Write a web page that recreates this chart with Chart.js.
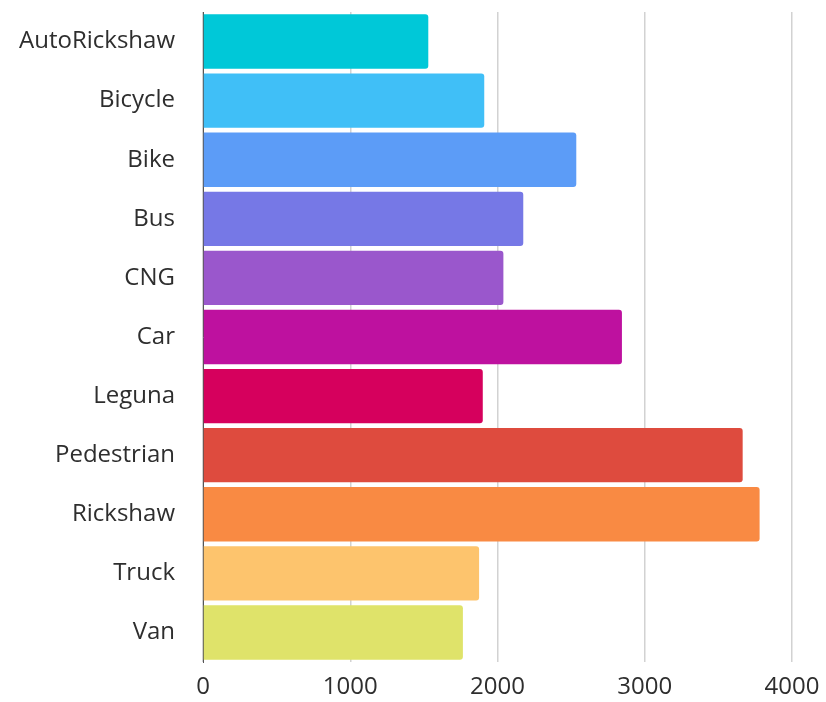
<!DOCTYPE html>
<html lang="en">
<head>
  <meta charset="UTF-8">
  <title>Vehicle counts</title>
  <script src="https://cdn.jsdelivr.net/npm/chart.js"></script>
  <style>
    body { margin: 0; background: #fff; }
    #chart { display: block; }
  </style>
</head>
<body>
  <canvas id="chart" width="826" height="702"></canvas>
  <script>
    // data
    const categories = ['AutoRickshaw', 'Bicycle', 'Bike', 'Bus', 'CNG', 'Car', 'Leguna', 'Pedestrian', 'Rickshaw', 'Truck', 'Van'];
    const counts = [1530, 1910, 2535, 2175, 2040, 2845, 1900, 3665, 3780, 1875, 1765];
    const xTicks = [0, 1000, 2000, 3000, 4000];
    const barColors = ['#00c8d8', '#40bff7', '#5c9cf7', '#7678e6', '#9a57cc', '#be119f', '#d6005d', '#de4b3e', '#f98a43', '#fdc46d', '#dfe36a'];

    const labelFont = { family: 'Open Sans', size: 24 };

    const ctx = document.getElementById('chart').getContext('2d');
    new Chart(ctx, {
      type: 'bar',
      data: {
        labels: categories,
        datasets: [{
          data: counts,
          backgroundColor: barColors,
          borderRadius: 3,
          borderSkipped: 'start',
          barPercentage: 0.92,
          categoryPercentage: 1
        }]
      },
      options: {
        indexAxis: 'y',
        responsive: false,
        animation: false,
        layout: { padding: { top: 12, right: 0, left: 0, bottom: 0 } },
        scales: {
          x: {
            min: 0,
            max: 4000,
            afterBuildTicks: axis => { axis.ticks = xTicks.map(v => ({ value: v })); },
            afterFit: axis => {
              axis.height = 40;
              axis.paddingLeft = 0;
              axis.paddingRight = 34;
            },
            grid: { color: '#d2d2d2', lineWidth: 1.5, drawTicks: false },
            border: { display: false },
            ticks: {
              color: '#2e2e2e', padding: 11, font: labelFont,
              callback: v => String(v)
            }
          },
          y: {
            afterFit: axis => {
              axis.width = 203;
              axis.paddingTop = 0;
              axis.paddingBottom = 0;
            },
            grid: { display: false },
            border: { display: true, color: '#555', width: 1 },
            ticks: { color: '#2e2e2e', padding: 20, font: labelFont }
          }
        },
        plugins: {
          legend: { display: false },
          tooltip: { enabled: false }
        }
      }
    });
  </script>
</body>
</html>
